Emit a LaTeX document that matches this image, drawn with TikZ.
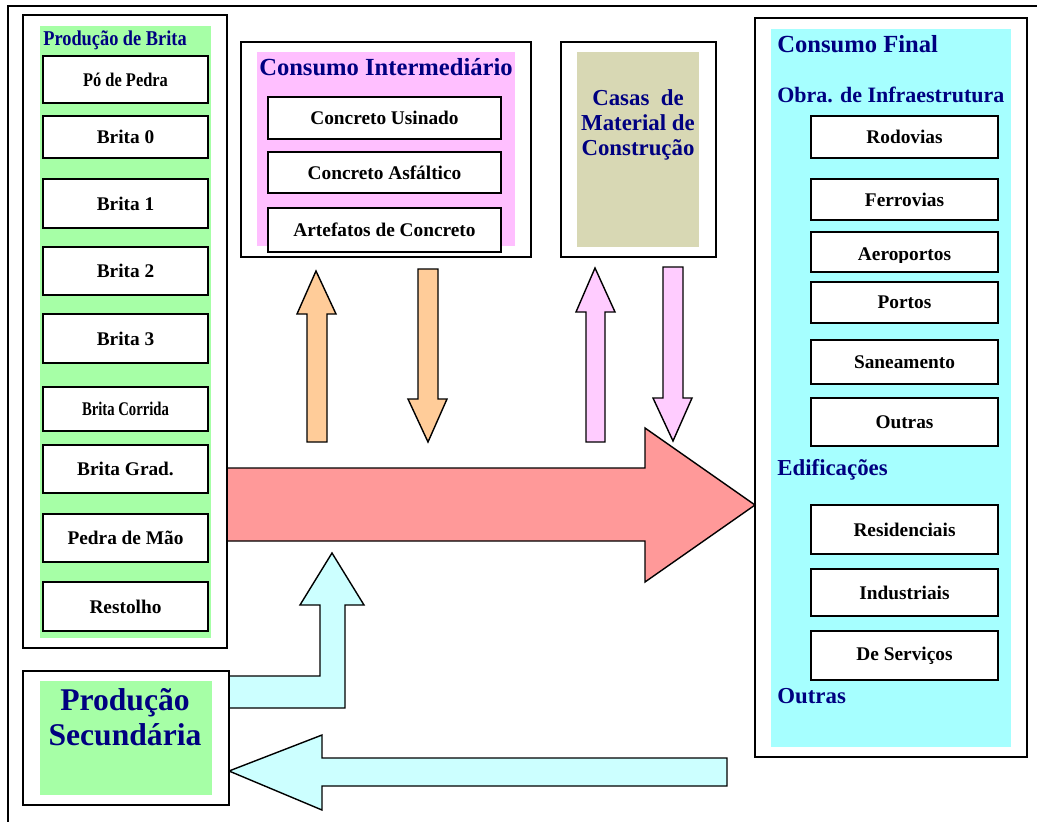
\documentclass[tikz,border=0pt]{standalone}
\usepackage{fontspec}
\usepackage{graphicx}
\setmainfont{Liberation Serif}
\usetikzlibrary{fit}
\definecolor{dblue}{HTML}{000080}
\definecolor{greenbg}{HTML}{A6FFA6}
\definecolor{pinkbg}{HTML}{FFBFFF}
\definecolor{khaki}{HTML}{D8D8B4}
\definecolor{cyanbg}{HTML}{A6FFFF}
\definecolor{orangearr}{HTML}{FFCC99}
\definecolor{pinkarr}{HTML}{FFCCFF}
\definecolor{redarr}{HTML}{FF9999}
\definecolor{cyanarr}{HTML}{CCFFFF}
\begin{document}
\begin{tikzpicture}[x=0.02cm,y=-0.02cm,
  frame/.style={draw=black,line width=1.1pt,inner sep=0pt},
  area/.style={inner sep=0pt,draw=none},
  itembox/.style={draw=black,fill=white,line width=1.1pt,inner sep=0pt},
  boxtext/.style={inner sep=0pt,font=\bfseries\fontsize{11}{13}\selectfont},
  ttl/.style={text=dblue,inner sep=0pt,font=\bfseries\fontsize{13}{15}\selectfont},
  blockarrow/.style={draw=black,line width=0.8pt,line join=miter}]
\useasboundingbox (0,0) rectangle (1037,821);
\clip (0,0) rectangle (1037,821);
% outer frame
\draw[line width=1pt] (8,6) rectangle (1100,900);

% arrows (drawn first)
\draw[blockarrow,fill=redarr] (227,468) -- (645,468) -- (645,428) -- (755,505) -- (645,582) -- (645,541) -- (227,541) -- cycle;
\draw[blockarrow,fill=orangearr] (307,442) -- (307,314) -- (297,314) -- (316,271) -- (336,314) -- (327,314) -- (327,442) -- cycle;
\draw[blockarrow,fill=orangearr] (418,269) -- (438,269) -- (438,399) -- (447,399) -- (428,442) -- (408,399) -- (418,399) -- cycle;
\draw[blockarrow,fill=pinkarr] (586,442) -- (586,312) -- (576,312) -- (595,268) -- (615,312) -- (605,312) -- (605,442) -- cycle;
\draw[blockarrow,fill=pinkarr] (663,267) -- (683,267) -- (683,398) -- (692,398) -- (673,441) -- (653,398) -- (663,398) -- cycle;
\draw[blockarrow,fill=cyanarr] (229,676) -- (320,676) -- (320,605) -- (300,605) -- (332,553) -- (364,605) -- (345,605) -- (345,708) -- (229,708) -- cycle;
\draw[blockarrow,fill=cyanarr] (727,758) -- (727,786) -- (322,786) -- (322,810) -- (229,771) -- (322,735) -- (322,758) -- cycle;

% Producao de Brita
\node[frame,fill=white,fit={(23,15)(227,648)}] (brfr) {};
\node[area,fill=greenbg,fit={(40,26)(211,638)}] (brfill) {};
\node[ttl,anchor=west,font=\bfseries\fontsize{12}{14}\selectfont] (brtitle) at (43,40) {\scalebox{0.87}[1]{Produção de Brita}};
\node[itembox,fit={(43,56)(208,103)}] (pdp) {};
\node[boxtext] at (pdp) {\scalebox{0.85}[1]{Pó de Pedra}};
\node[itembox,fit={(43,116)(208,158)}] (b0) {};
\node[boxtext] at (b0) {Brita 0};
\node[itembox,fit={(43,179)(208,228)}] (b1) {};
\node[boxtext] at (b1) {Brita 1};
\node[itembox,fit={(43,247)(208,295)}] (b2) {};
\node[boxtext] at (b2) {Brita 2};
\node[itembox,fit={(43,314)(208,363)}] (b3) {};
\node[boxtext] at (b3) {Brita 3};
\node[itembox,fit={(43,387)(208,431)}] (bc) {};
\node[boxtext] at (bc) {\scalebox{0.76}[1]{Brita Corrida}};
\node[itembox,fit={(43,445)(208,493)}] (bg) {};
\node[boxtext] at (bg) {Brita Grad.};
\node[itembox,fit={(43,514)(208,562)}] (pm) {};
\node[boxtext] at (pm) {Pedra de Mão};
\node[itembox,fit={(43,582)(208,631)}] (rest) {};
\node[boxtext] at (rest) {Restolho};

% Consumo Intermediario
\node[frame,fit={(241,42)(531,257)}] (cifr) {};
\node[area,fill=pinkbg,fit={(257,52)(515,246)}] (cifill) {};
\node[ttl,font=\bfseries\fontsize{14}{16}\selectfont] (cititle) at (386,67) {Consumo Intermediário};
\node[itembox,fit={(268,97)(501,139)}] (cu) {};
\node[boxtext] at (cu) {Concreto Usinado};
\node[itembox,fit={(268,152)(501,193)}] (ca) {};
\node[boxtext] at (ca) {Concreto Asfáltico};
\node[itembox,fit={(268,208)(501,252)}] (ac) {};
\node[boxtext] at (ac) {Artefatos de Concreto};

% Casas de Material de Construcao
\node[frame,fit={(561,42)(716,257)}] (cafr) {};
\node[area,fill=khaki,fit={(577,52)(699,247)}] (cafill) {};
\node[ttl,align=center,font=\bfseries\fontsize{13}{14.3}\selectfont] (catext) at (638,125) {Casas\ \ de\\Material de\\Construção};

% Consumo Final
\node[frame,fit={(755,18)(1027,757)}] (cffr) {};
\node[area,fill=cyanbg,fit={(771,29)(1011,747)}] (cffill) {};
\node[ttl,anchor=west,font=\bfseries\fontsize{14}{16}\selectfont] (cftitle) at (777,44) {Consumo Final};
\node[ttl,anchor=west,font=\bfseries\fontsize{12.5}{15}\selectfont] (obra) at (777,95) {Obra. de Infraestrutura};
\node[itembox,fit={(811,116)(998,158)}] (rod) {};
\node[boxtext] at (rod) {Rodovias};
\node[itembox,fit={(811,179)(998,220)}] (fer) {};
\node[boxtext] at (fer) {Ferrovias};
\node[itembox,fit={(811,232)(998,272)}] (aer) {};
\begin{scope}
  \clip (811,232) rectangle (998,262);
  \node[boxtext,anchor=base] (aertext) at (904.5,260) {Aeroportos};
\end{scope}
\node[itembox,fit={(811,282)(998,323)}] (por) {};
\node[boxtext] at (por) {Portos};
\node[itembox,fit={(811,340)(998,384)}] (san) {};
\node[boxtext] at (san) {Saneamento};
\node[itembox,fit={(811,398)(998,446)}] (out1) {};
\node[boxtext] at (out1) {Outras};
\node[ttl,anchor=west] (edif) at (777,470) {Edificações};
\node[itembox,fit={(811,505)(998,554)}] (res) {};
\node[boxtext] at (res) {Residenciais};
\node[itembox,fit={(811,569)(998,616)}] (ind) {};
\node[boxtext] at (ind) {Industriais};
\node[itembox,fit={(811,631)(998,680)}] (ser) {};
\node[boxtext] at (ser) {De Serviços};
\node[ttl,anchor=west] (out2) at (777,696) {Outras};

% Producao Secundaria
\node[frame,fill=white,fit={(23,671)(229,805)}] (psfr) {};
\node[area,fill=greenbg,fit={(40,681)(212,795)}] (psfill) {};
\node[ttl,align=center,font=\bfseries\fontsize{18}{20}\selectfont] (pstext) at (125,717) {Produção\\Secundária};
\end{tikzpicture}
\end{document}
